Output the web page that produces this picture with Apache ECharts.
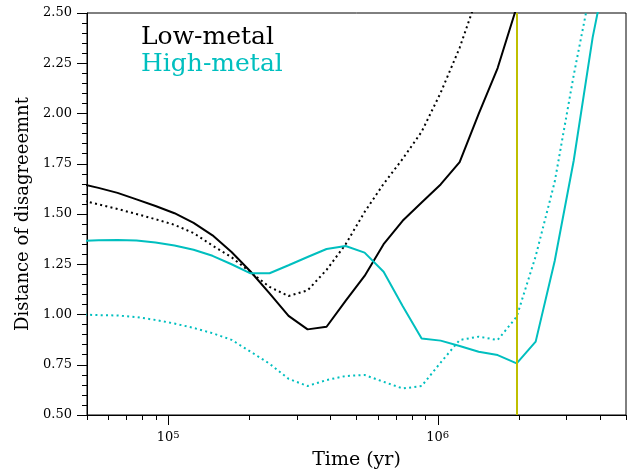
<!DOCTYPE html>
<html>
<head>
<meta charset="utf-8">
<script src="https://cdn.jsdelivr.net/npm/echarts@6/dist/echarts.min.js"></script>
<style>
  html, body { margin: 0; padding: 0; background: #fff; }
  #chart { width: 641px; height: 475px; }
</style>
</head>
<body>
<div id="chart"></div>
<script>
// Sampling times (yr), shared by all four curves
const times = [46900, 55150, 64900, 76330, 89790, 105600, 124300, 146100, 171900, 202200,
  237900, 279800, 329200, 387200, 455500, 535800, 630300, 741500, 872200, 1026000,
  1207000, 1420000, 1670000, 1965000, 2311000, 2719000, 3198000, 3762000, 4425000];

// Low-metal models
const lowSolid = [1.652, 1.630, 1.605, 1.573, 1.540, 1.504, 1.456, 1.394, 1.311, 1.214,
  1.105, 0.993, 0.926, 0.939, 1.068, 1.192, 1.350, 1.466, 1.557, 1.647,
  1.758, 1.998, 2.226, 2.530];
const lowDotted = [1.570, 1.548, 1.525, 1.500, 1.474, 1.446, 1.405, 1.343, 1.285, 1.210,
  1.137, 1.092, 1.120, 1.222, 1.349, 1.510, 1.650, 1.774, 1.909, 2.103,
  2.327, 2.600];

// High-metal models
const highSolid = [1.365, 1.369, 1.371, 1.368, 1.358, 1.343, 1.322, 1.292, 1.250, 1.205,
  1.205, 1.245, 1.286, 1.326, 1.341, 1.308, 1.213, 1.042, 0.881, 0.870,
  0.843, 0.815, 0.798, 0.757, 0.865, 1.266, 1.765, 2.380, 2.850];
const highDotted = [1.000, 0.997, 0.995, 0.987, 0.973, 0.955, 0.933, 0.907, 0.874, 0.815,
  0.755, 0.680, 0.644, 0.674, 0.694, 0.699, 0.665, 0.632, 0.644, 0.761,
  0.873, 0.890, 0.873, 0.989, 1.290, 1.660, 2.190, 2.670];

// Reference epoch marked by the vertical line
const markTime = 1965000;

// Axis ranges and tick positions
const xMin = 5e4, xMax = 5e6;
const yMin = 0.5, yMax = 2.5, yStep = 0.25;
const xMajorTicks = [1e5, 1e6];
const xMinorTicks = [5e4, 6e4, 7e4, 8e4, 9e4, 2e5, 3e5, 4e5, 5e5, 6e5, 7e5, 8e5, 9e5,
  2e6, 3e6, 4e6, 5e6];

const legendLabels = ['Low-metal', 'High-metal'];

const BLACK = '#000000';
const CYAN = '#00bfbf';
const OLIVE = '#bfbf00';
const FONT = 'DejaVu Serif';

function pairs(vals) {
  return vals.map((v, i) => [times[i], v]);
}

const dotted = [2, 3.3];

function tickSeries(values, len) {
  return {
    type: 'custom',
    silent: true,
    clip: false,
    data: values.map(v => [v, yMin]),
    encode: { x: 0, y: 1 },
    renderItem: function (params, api) {
      const p = api.coord([api.value(0), api.value(1)]);
      const x = Math.round(p[0]) + 0.5;
      return {
        type: 'line',
        shape: { x1: x, y1: p[1], x2: x, y2: p[1] + len },
        style: { stroke: BLACK, lineWidth: 1 }
      };
    },
    z: 5
  };
}

const chart = echarts.init(document.getElementById('chart'), null, { renderer: 'canvas' });

chart.setOption({
  animation: false,
  backgroundColor: '#fff',
  textStyle: { fontFamily: FONT },
  grid: {
    left: 87, right: 15, top: 13, bottom: 60,
    show: true, borderColor: BLACK, borderWidth: 1, backgroundColor: 'transparent'
  },
  xAxis: {
    type: 'log',
    logBase: 10,
    min: xMin,
    max: xMax,
    name: 'Time (yr)',
    nameLocation: 'middle',
    nameGap: 36,
    nameTextStyle: { fontFamily: FONT, fontSize: 19, color: BLACK },
    axisLine: { show: true, lineStyle: { color: BLACK, width: 1 } },
    axisTick: { show: false },
    splitLine: { show: false },
    axisLabel: {
      show: true,
      showMinLabel: false,
      showMaxLabel: false,
      margin: 15,
      color: BLACK,
      fontFamily: FONT,
      fontSize: 13,
      formatter: function (v) {
        const e = Math.round(Math.log10(v));
        if (Math.abs(v - Math.pow(10, e)) / v > 1e-6) return '';
        return '10{sup|' + e + '}';
      },
      rich: {
        sup: { fontFamily: FONT, fontSize: 10, verticalAlign: 'top', color: BLACK, padding: [0, 0, 6, 0] }
      }
    }
  },
  yAxis: {
    type: 'value',
    min: yMin,
    max: yMax,
    interval: yStep,
    name: 'Distance of disagreeemnt',
    nameLocation: 'middle',
    nameGap: 51,
    nameTextStyle: { fontFamily: FONT, fontSize: 18, color: BLACK },
    axisLine: { show: true, lineStyle: { color: BLACK, width: 1 } },
    axisTick: { show: true, inside: false, length: 10, lineStyle: { color: BLACK } },
    minorTick: { show: true, splitNumber: 5, length: 5, lineStyle: { color: BLACK } },
    splitLine: { show: false },
    axisLabel: {
      margin: 15,
      color: BLACK,
      fontFamily: FONT,
      fontSize: 13,
      formatter: v => v.toFixed(2)
    }
  },
  series: [
    {
      name: legendLabels[0] + ' (solid)',
      type: 'line',
      data: pairs(lowSolid),
      showSymbol: false,
      clip: true,
      lineStyle: { color: BLACK, width: 2 },
      z: 3
    },
    {
      name: legendLabels[0] + ' (dotted)',
      type: 'line',
      data: pairs(lowDotted),
      showSymbol: false,
      clip: true,
      lineStyle: { color: BLACK, width: 2, type: dotted, cap: 'butt' },
      z: 3
    },
    {
      name: legendLabels[1] + ' (solid)',
      type: 'line',
      data: pairs(highSolid),
      showSymbol: false,
      clip: true,
      lineStyle: { color: CYAN, width: 2 },
      z: 3,
      markLine: {
        silent: true,
        symbol: ['none', 'none'],
        label: { show: false },
        lineStyle: { color: OLIVE, width: 2, type: 'solid' },
        data: [{ xAxis: markTime }]
      }
    },
    {
      name: legendLabels[1] + ' (dotted)',
      type: 'line',
      data: pairs(highDotted),
      showSymbol: false,
      clip: true,
      lineStyle: { color: CYAN, width: 2, type: dotted, cap: 'butt' },
      z: 3
    },
    tickSeries(xMajorTicks, 10),
    tickSeries(xMinorTicks, 5)
  ],
  graphic: [
    {
      type: 'text',
      left: 141, top: 25,
      style: { text: legendLabels[0], fill: BLACK, fontFamily: FONT, fontSize: 25 }
    },
    {
      type: 'text',
      left: 141, top: 52,
      style: { text: legendLabels[1], fill: CYAN, fontFamily: FONT, fontSize: 25 }
    }
  ]
});
</script>
</body>
</html>
